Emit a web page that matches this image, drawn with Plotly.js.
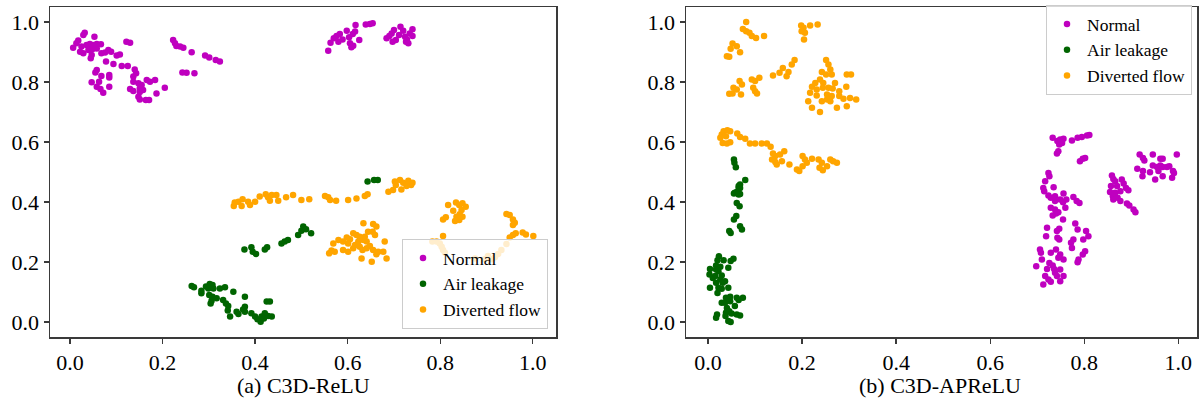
<!DOCTYPE html>
<html>
<head>
<meta charset="utf-8">
<script src="https://cdn.plot.ly/plotly-3.0.1.min.js"></script>
<style>html,body{margin:0;padding:0;background:#fff;}#chart{width:1202px;height:415px;}</style>
</head>
<body>
<div id="chart"></div>
<script>
// ---- Data: (a) C3D-ReLU ----
const reluNormalX = [0.032,0.029,0.053,0.018,0.014,0.007,0.025,0.036,0.043,0.050,0.058,0.067,0.022,0.029,0.040,0.049,0.058,0.068,0.076,0.083,0.089,0.047,0.045,0.101,0.108,0.122,0.130,0.078,0.094,0.112,0.125,0.140,0.143,0.137,0.058,0.055,0.068,0.085,0.085,0.047,0.063,0.058,0.066,0.072,0.085,0.137,0.148,0.155,0.166,0.173,0.184,0.151,0.158,0.130,0.137,0.148,0.151,0.164,0.171,0.187,0.205,0.151,0.223,0.227,0.230,0.238,0.245,0.263,0.292,0.301,0.315,0.324,0.243,0.252,0.269,
  0.558,0.563,0.570,0.576,0.583,0.580,0.589,0.598,0.603,0.611,0.616,0.617,0.605,0.612,0.608,0.625,0.639,0.648,0.654,0.684,0.690,0.695,0.700,0.704,0.711,0.714,0.720,0.724,0.726,0.728,0.734,0.740,0.740,0.731,0.697];
const reluNormalY = [0.964,0.957,0.951,0.938,0.929,0.914,0.918,0.923,0.927,0.923,0.927,0.926,0.901,0.896,0.907,0.910,0.912,0.896,0.898,0.907,0.901,0.890,0.879,0.888,0.892,0.934,0.931,0.868,0.860,0.853,0.853,0.842,0.829,0.818,0.840,0.832,0.820,0.823,0.815,0.799,0.801,0.784,0.777,0.764,0.784,0.801,0.796,0.790,0.807,0.801,0.807,0.779,0.773,0.777,0.770,0.751,0.742,0.740,0.740,0.762,0.781,0.767,0.940,0.929,0.920,0.918,0.914,0.899,0.888,0.882,0.873,0.868,0.832,0.831,0.829,
  0.904,0.931,0.946,0.953,0.960,0.934,0.942,0.971,0.949,0.960,0.968,0.990,0.929,0.921,0.916,0.940,0.992,0.993,0.996,0.946,0.953,0.962,0.973,0.940,0.957,0.984,0.971,0.951,0.934,0.942,0.962,0.976,0.953,0.929,0.934];

const reluAirX = [0.263,0.268,0.284,0.284,0.294,0.302,0.308,0.299,0.310,0.324,0.335,0.353,0.301,0.308,0.306,0.304,0.317,0.331,0.337,0.342,0.341,0.346,0.360,0.364,0.374,0.378,0.378,0.378,0.392,0.400,0.405,0.412,0.414,0.421,0.428,0.436,0.425,0.432,0.419,
  0.377,0.392,0.395,0.402,0.421,0.426,0.457,0.464,0.471,0.493,0.500,0.504,0.510,0.521,
  0.643,0.657,0.665];
const reluAirY = [0.120,0.116,0.104,0.096,0.118,0.127,0.123,0.112,0.112,0.112,0.116,0.101,0.090,0.084,0.071,0.062,0.079,0.073,0.062,0.053,0.038,0.018,0.034,0.027,0.042,0.051,0.034,0.084,0.029,0.018,0.009,0.001,0.018,0.029,0.020,0.018,0.068,0.068,0.012,
  0.242,0.249,0.234,0.227,0.242,0.249,0.262,0.268,0.273,0.290,0.304,0.318,0.309,0.296,
  0.468,0.473,0.473];

const reluDivX = [0.354,0.356,0.364,0.373,0.371,0.385,0.389,0.400,0.410,0.423,0.428,0.436,0.432,0.446,0.450,0.467,0.482,0.500,0.517,0.551,0.558,0.562,0.575,0.601,0.619,0.637,0.643,
  0.688,0.698,0.704,0.702,0.713,0.720,0.731,0.737,0.740,0.716,0.727,
  0.634,0.655,0.662,0.654,0.659,0.644,0.637,0.641,0.634,0.626,0.619,0.612,0.623,0.616,0.605,0.598,0.601,0.590,0.580,0.569,0.565,0.560,0.572,0.590,0.601,0.612,0.626,0.632,0.630,0.652,0.655,0.666,0.662,0.680,0.677,0.684,0.648,0.641,
  0.817,0.834,0.841,0.848,0.855,0.828,0.846,0.842,0.835,0.832,0.841,0.806,0.812,0.848,
  0.783,0.792,0.806,0.799,0.803,0.806,0.810,
  0.875,0.896,0.903,0.911,0.918,0.925,0.932,0.943,0.950,0.957,0.963,0.978,0.985,1.001,0.943,0.950,0.957,0.961,0.957];
const reluDivY = [0.387,0.398,0.401,0.409,0.387,0.401,0.390,0.401,0.418,0.426,0.416,0.423,0.404,0.423,0.404,0.416,0.423,0.407,0.409,0.420,0.416,0.407,0.404,0.407,0.412,0.420,0.426,
  0.434,0.440,0.457,0.468,0.473,0.464,0.471,0.457,0.464,0.442,0.453,
  0.329,0.327,0.318,0.301,0.290,0.301,0.284,0.268,0.273,0.284,0.290,0.296,0.268,0.257,0.276,0.282,0.262,0.268,0.273,0.262,0.238,0.229,0.234,0.240,0.234,0.246,0.251,0.240,0.212,0.201,0.240,0.234,0.226,0.268,0.234,0.212,0.253,0.246,
  0.390,0.398,0.390,0.396,0.384,0.371,0.373,0.359,0.351,0.337,0.340,0.342,0.349,0.351,
  0.268,0.268,0.287,0.262,0.251,0.240,0.231,
  0.212,0.209,0.220,0.209,0.216,0.227,0.240,0.260,0.282,0.290,0.296,0.298,0.292,0.287,0.360,0.357,0.342,0.331,0.323];

// ---- Data: (b) C3D-APReLU ----
const apNormalX = [0.733,0.743,0.749,0.756,0.753,0.747,0.774,0.786,0.795,0.806,0.811,0.745,0.742,0.791,0.797,0.802,
  0.724,0.726,0.717,0.713,0.715,0.735,0.724,0.729,0.738,0.756,0.749,0.755,0.762,0.738,0.777,0.784,0.790,0.729,0.738,0.760,0.745,0.733,0.740,0.755,
  0.721,0.747,0.742,0.781,0.786,0.804,0.719,0.743,0.747,0.809,0.798,0.777,0.772,0.774,0.706,0.708,0.729,0.740,0.749,0.745,0.756,0.802,0.797,0.788,0.786,0.710,0.726,0.733,0.698,0.721,0.736,0.749,0.738,0.717,0.724,0.729,0.742,0.749,0.756,0.713,
  0.859,0.862,0.866,0.880,0.884,0.857,0.870,0.889,0.894,0.855,0.866,0.877,0.861,0.871,0.862,0.877,0.891,0.896,0.905,0.909,
  0.918,0.925,0.928,0.946,0.962,0.967,0.997,0.946,0.955,0.962,0.967,0.976,0.981,0.913,0.925,0.940,0.924,0.951,0.967,0.989,0.991,0.987,0.958];
const apNormalY = [0.614,0.603,0.608,0.611,0.597,0.592,0.605,0.614,0.617,0.622,0.623,0.569,0.562,0.536,0.544,0.547,
  0.497,0.486,0.469,0.447,0.436,0.449,0.422,0.414,0.419,0.428,0.408,0.399,0.408,0.403,0.417,0.403,0.397,0.381,0.375,0.381,0.366,0.355,0.362,0.342,
  0.314,0.311,0.303,0.328,0.308,0.303,0.286,0.281,0.275,0.286,0.275,0.275,0.264,0.247,0.242,0.231,0.231,0.242,0.225,0.214,0.208,0.236,0.225,0.208,0.199,0.208,0.197,0.188,0.186,0.177,0.177,0.175,0.164,0.153,0.142,0.134,0.153,0.136,0.153,0.125,
  0.488,0.477,0.469,0.475,0.462,0.453,0.453,0.447,0.439,0.433,0.431,0.436,0.419,0.414,0.408,0.403,0.395,0.388,0.375,0.366,
  0.558,0.547,0.538,0.558,0.544,0.544,0.558,0.522,0.517,0.522,0.517,0.517,0.519,0.511,0.503,0.499,0.486,0.475,0.486,0.503,0.497,0.481,0.503];

const apAirX = [0.055,0.056,0.059,0.079,0.068,0.065,0.061,0.055,0.068,0.065,0.068,0.057,0.065,0.061,0.067,0.060,0.055,0.068,0.072,0.045,0.048,
  0.023,0.020,0.033,0.054,0.048,0.017,0.026,0.043,0.004,0.017,0.022,0.003,0.010,0.015,0.029,0.026,0.036,0.017,0.031,0.004,0.022,0.029,0.043,0.020,0.038,0.047,0.061,0.074,0.029,0.036,0.047,0.065,0.057,0.040,0.045,0.038,0.050,0.061,0.068,0.019,0.017,0.043,0.048,0.037];
const apAirY = [0.542,0.531,0.516,0.473,0.458,0.447,0.433,0.428,0.427,0.453,0.447,0.431,0.425,0.397,0.386,0.353,0.342,0.319,0.308,0.303,0.297,
  0.219,0.206,0.206,0.211,0.203,0.188,0.184,0.181,0.177,0.175,0.169,0.158,0.147,0.153,0.155,0.142,0.136,0.131,0.131,0.114,0.114,0.111,0.114,0.097,0.081,0.084,0.081,0.081,0.064,0.064,0.069,0.073,0.053,0.047,0.036,0.031,0.028,0.025,0.022,0.025,0.014,0.003,0.000,0.020];

const apDivX = [0.081,0.074,0.081,0.088,0.093,0.102,0.119,0.052,0.048,0.061,0.068,0.040,0.045,0.198,0.203,0.199,0.206,0.204,0.217,0.233,
  0.045,0.052,0.054,0.061,0.067,0.072,0.070,0.093,0.100,0.109,0.096,0.100,0.104,0.138,0.152,0.159,0.167,0.171,0.178,0.184,
  0.251,0.256,0.260,0.242,0.251,0.263,0.295,0.304,0.238,0.228,0.245,0.270,0.221,0.231,0.244,0.256,0.265,0.294,0.217,0.231,0.253,0.263,0.279,0.279,0.213,0.242,0.253,0.260,0.288,0.302,0.315,0.221,0.238,0.274,0.295,
  0.029,0.026,0.033,0.041,0.047,0.038,0.031,0.040,0.047,0.062,0.068,0.079,0.089,0.100,0.114,0.125,0.133,0.138,0.143,0.136,0.143,0.146,0.153,0.162,0.157,0.173,0.189,0.194,0.201,0.206,0.210,0.201,0.221,0.235,0.237,0.244,0.242,0.253,0.260,0.266,0.274];
const apDivY = [1.000,0.977,0.969,0.964,0.953,0.947,0.953,0.928,0.911,0.919,0.899,0.886,0.884,0.988,0.981,0.969,0.964,0.942,0.988,0.992,
  0.761,0.762,0.781,0.775,0.803,0.792,0.758,0.808,0.803,0.814,0.781,0.769,0.762,0.822,0.831,0.847,0.819,0.833,0.858,0.873,
  0.873,0.858,0.842,0.833,0.825,0.825,0.825,0.825,0.808,0.797,0.797,0.797,0.784,0.775,0.781,0.781,0.778,0.784,0.764,0.755,0.758,0.753,0.769,0.753,0.736,0.736,0.742,0.736,0.744,0.747,0.742,0.714,0.700,0.714,0.719,
  0.625,0.614,0.636,0.639,0.636,0.619,0.597,0.595,0.599,0.628,0.617,0.611,0.595,0.595,0.595,0.595,0.584,0.562,0.553,0.542,0.533,0.525,0.558,0.569,0.536,0.525,0.508,0.503,0.553,0.542,0.531,0.519,0.544,0.542,0.514,0.506,0.531,0.519,0.542,0.536,0.531];

const classNames = ["Normal", "Air leakage", "Diverted flow"];
const classColors = ["#bf00bf", "#006400", "#ffa500"];
const tickVals = [0, 0.2, 0.4, 0.6, 0.8, 1.0];
const tickText = ["0.0", "0.2", "0.4", "0.6", "0.8", "1.0"];
const panelTitles = ["(a) C3D-ReLU", "(b) C3D-APReLU"];

const FONT = "Liberation Serif";

function mk(x, y, i, xa, ya, leg) {
  return {
    type: "scatter", mode: "markers", x: x, y: y,
    name: classNames[i], xaxis: xa, yaxis: ya, legend: leg,
    marker: { color: classColors[i], size: 6.5, line: { width: 0 } },
    hoverinfo: "skip"
  };
}

const traces = [
  mk(reluNormalX, reluNormalY, 0, "x", "y", "legend"),
  mk(reluAirX, reluAirY, 1, "x", "y", "legend"),
  mk(reluDivX, reluDivY, 2, "x", "y", "legend"),
  mk(apNormalX, apNormalY, 0, "x2", "y2", "legend2"),
  mk(apAirX, apAirY, 1, "x2", "y2", "legend2"),
  mk(apDivX, apDivY, 2, "x2", "y2", "legend2")
];

const W = 1202, H = 415;
function axisCommon() {
  return {
    showgrid: false, zeroline: false,
    showline: true, mirror: true, linecolor: "#3a3a3a", linewidth: 1.5,
    ticks: "outside", ticklen: 5, tickwidth: 1.3, tickcolor: "#3a3a3a",
    tickvals: tickVals, ticktext: tickText,
    tickfont: { family: FONT, size: 22, color: "#000" },
    fixedrange: true
  };
}
const yDom = [(H - 337) / H, (H - 7) / H];

const legendCommon = {
  font: { family: FONT, size: 17.5, color: "#000" },
  bgcolor: "rgba(255,255,255,0.8)", bordercolor: "#cccccc", borderwidth: 1,
  tracegroupgap: 0, itemsizing: "trace"
};

const layout = {
  width: W, height: H,
  margin: { l: 0, r: 0, t: 0, b: 0 },
  paper_bgcolor: "#fff", plot_bgcolor: "#fff",
  showlegend: true,
  font: { family: FONT },
  xaxis: Object.assign(axisCommon(), { domain: [50 / W, 556 / W], range: [-0.043, 1.05], anchor: "y" }),
  yaxis: Object.assign(axisCommon(), { domain: yDom, range: [-0.05, 1.05], anchor: "x" }),
  xaxis2: Object.assign(axisCommon(), { domain: [686 / W, 1197 / W], range: [-0.047, 1.04], anchor: "y2" }),
  yaxis2: Object.assign(axisCommon(), { domain: yDom, range: [-0.05, 1.05], anchor: "x2" }),
  legend: Object.assign({}, legendCommon, { x: 548 / W, y: (H - 329) / H, xanchor: "right", yanchor: "bottom" }),
  legend2: Object.assign({}, legendCommon, { x: 1192 / W, y: (H - 5) / H, xanchor: "right", yanchor: "top" }),
  annotations: [
    { text: panelTitles[0], x: 303 / W, y: (H - 385) / H, xref: "paper", yref: "paper", showarrow: false, xanchor: "center", yanchor: "middle", font: { family: FONT, size: 22, color: "#000" } },
    { text: panelTitles[1], x: 940 / W, y: (H - 385) / H, xref: "paper", yref: "paper", showarrow: false, xanchor: "center", yanchor: "middle", font: { family: FONT, size: 22, color: "#000" } }
  ]
};

Plotly.newPlot("chart", traces, layout, { staticPlot: true, displayModeBar: false });
</script>
</body>
</html>
